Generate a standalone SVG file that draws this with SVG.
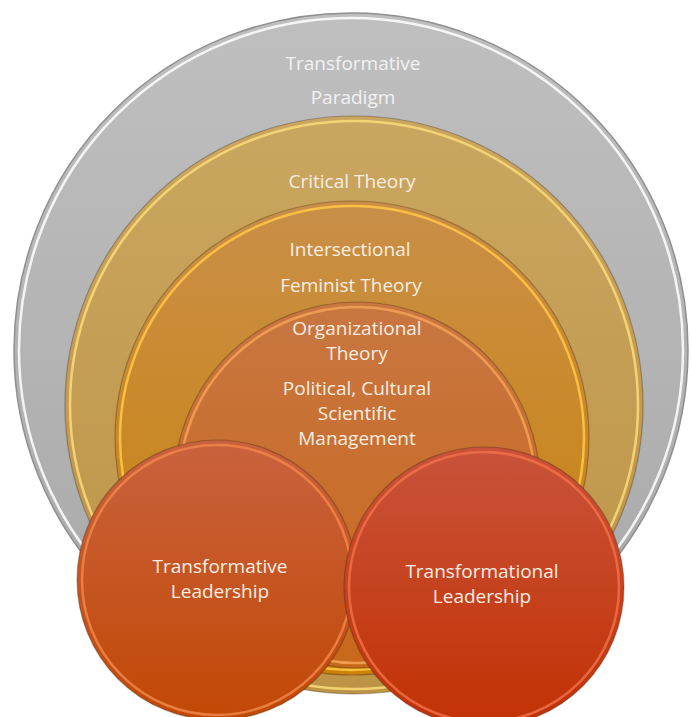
<svg xmlns="http://www.w3.org/2000/svg" width="692" height="717" viewBox="0 0 692 717">
<style>
  .lbl { font-family: "Open Sans", "Liberation Sans", sans-serif; font-size: 19px; fill: #f6eee2; text-anchor: middle; }
  .gl { fill: #f2f2f2; }
  .edge { stroke: rgba(60,40,20,0.35); stroke-width: 1.2; }
</style>
<defs>
  <linearGradient id="gGray" x1="0" y1="0" x2="0" y2="1">
    <stop offset="0" stop-color="#bfbfbf"/>
    <stop offset="1" stop-color="#a8a8a8"/>
  </linearGradient>
  <linearGradient id="gGold" x1="0" y1="0" x2="0" y2="1">
    <stop offset="0" stop-color="#caa660"/>
    <stop offset="1" stop-color="#bd9346"/>
  </linearGradient>
  <linearGradient id="gInt" x1="0" y1="0" x2="0" y2="1">
    <stop offset="0" stop-color="#c98f48"/>
    <stop offset="1" stop-color="#ca8206"/>
  </linearGradient>
  <linearGradient id="gOrg" x1="0" y1="0" x2="0" y2="1">
    <stop offset="0" stop-color="#c97642"/>
    <stop offset="1" stop-color="#c8681a"/>
  </linearGradient>
  <linearGradient id="gLeft" x1="0" y1="0" x2="0" y2="1">
    <stop offset="0" stop-color="#c9623e"/>
    <stop offset="1" stop-color="#c24805"/>
  </linearGradient>
  <linearGradient id="gRight" x1="0" y1="0" x2="0" y2="1">
    <stop offset="0" stop-color="#c9533a"/>
    <stop offset="1" stop-color="#c23104"/>
  </linearGradient>
</defs>

<g id="transformative-paradigm">
  <circle cx="351" cy="350" r="337" fill="url(#gGray)" stroke="#8f8f8f" stroke-width="1.5"/>
  <circle cx="351" cy="350" r="332" fill="none" stroke="#ffffff" stroke-opacity="0.85" stroke-width="2.5"/>
  <text class="lbl gl" x="353" y="70">Transformative</text>
  <text class="lbl gl" x="353" y="104">Paradigm</text>
</g>

<g id="critical-theory">
  <circle cx="354" cy="405" r="289" fill="url(#gGold)" class="edge"/>
  <circle cx="354" cy="405" r="284" fill="none" stroke="#f8d878" stroke-opacity="0.9" stroke-width="2.5"/>
  <text class="lbl" x="352" y="188">Critical Theory</text>
</g>

<g id="intersectional-feminist-theory">
  <circle cx="352" cy="438" r="237" fill="url(#gInt)" class="edge"/>
  <circle cx="352" cy="438" r="232" fill="none" stroke="#ffc446" stroke-opacity="0.9" stroke-width="2.5"/>
  <text class="lbl" x="350" y="256">Intersectional</text>
  <text class="lbl" x="351" y="292">Feminist Theory</text>
</g>

<g id="organizational-theory">
  <circle cx="357" cy="485" r="183" fill="url(#gOrg)" class="edge"/>
  <circle cx="357" cy="485" r="178" fill="none" stroke="#f2a055" stroke-opacity="0.9" stroke-width="2.5"/>
  <text class="lbl" x="357" y="335">Organizational</text>
  <text class="lbl" x="357" y="360">Theory</text>
  <text class="lbl" x="357" y="395">Political, Cultural</text>
  <text class="lbl" x="357" y="420">Scientific</text>
  <text class="lbl" x="357" y="445">Management</text>
</g>

<g id="transformative-leadership">
  <circle cx="217" cy="580" r="140" fill="url(#gLeft)" class="edge"/>
  <circle cx="217" cy="580" r="135" fill="none" stroke="#f0864a" stroke-opacity="0.85" stroke-width="2.5"/>
  <text class="lbl" x="220" y="573">Transformative</text>
  <text class="lbl" x="220" y="598">Leadership</text>
</g>

<g id="transformational-leadership">
  <circle cx="484" cy="587" r="140" fill="url(#gRight)" class="edge"/>
  <circle cx="484" cy="587" r="135" fill="none" stroke="#f07048" stroke-opacity="0.85" stroke-width="2.5"/>
  <text class="lbl" x="482" y="578">Transformational</text>
  <text class="lbl" x="482" y="603">Leadership</text>
</g>

<g id="connectors"/>
</svg>
